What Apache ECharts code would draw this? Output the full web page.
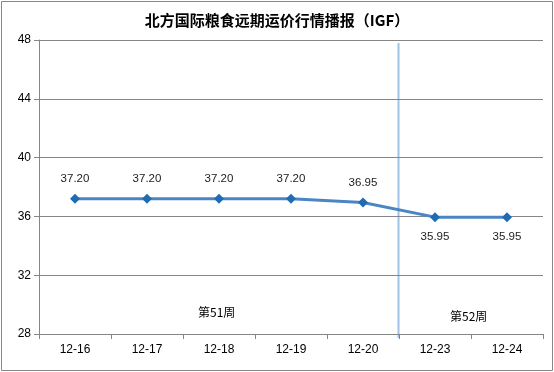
<!DOCTYPE html>
<html>
<head>
<meta charset="utf-8">
<script src="https://cdn.jsdelivr.net/npm/echarts@6/dist/echarts.min.js"></script>
<style>
  html, body { margin: 0; padding: 0; background: #fff; }
  #chart { width: 554px; height: 372px; }
</style>
</head>
<body>
<div id="chart"></div>
<script>
var dates = ['12-16', '12-17', '12-18', '12-19', '12-20', '12-23', '12-24'];
var prices = [37.20, 37.20, 37.20, 37.20, 36.95, 35.95, 35.95];
// 前5个标签在上方，后2个在下方
var labelPos = ['top', 'top', 'top', 'top', 'top', 'bottom', 'bottom'];
var weekLabels = ['第51周', '第52周'];

var chart = echarts.init(document.getElementById('chart'));

var option = {
  animation: false,
  title: {
    text: '北方国际粮食远期运价行情播报（IGF）',
    left: 'center',
    top: 8,
    textStyle: {
      fontFamily: 'Noto Sans CJK SC',
      fontSize: 15,
      fontWeight: 'bold',
      color: '#000'
    }
  },
  grid: { left: 39, right: 11, top: 40, bottom: 38 },
  xAxis: {
    type: 'category',
    data: dates,
    boundaryGap: true,
    axisLine: { lineStyle: { color: '#868686' } },
    axisTick: { show: true, length: 5, lineStyle: { color: '#868686' } },
    axisLabel: { color: '#000', fontSize: 12, fontFamily: 'Liberation Sans', margin: 10 }
  },
  yAxis: {
    type: 'value',
    min: 28,
    max: 48,
    interval: 4,
    axisLine: { show: true, lineStyle: { color: '#868686' } },
    axisTick: { show: true, length: 5, lineStyle: { color: '#868686' } },
    axisLabel: { color: '#000', fontSize: 12, fontFamily: 'Liberation Sans', margin: 8 },
    splitLine: { lineStyle: { color: '#868686' } }
  },
  series: [{
    type: 'line',
    data: prices.map(function (v, i) {
      return { value: v, label: { position: labelPos[i] } };
    }),
    symbol: 'diamond',
    symbolSize: 10,
    lineStyle: { color: '#4a86c5', width: 3 },
    itemStyle: { color: '#1f6cb4' },
    label: {
      show: true,
      color: '#222',
      fontSize: 11.5,
      fontFamily: 'Liberation Sans',
      distance: 9,
      formatter: function (p) { return p.value.toFixed(2); }
    }
  }],
  graphic: [
    {
      id: 'border',
      type: 'rect',
      shape: { x: 1.5, y: 1.5, width: 551, height: 369 },
      style: { fill: 'none', stroke: '#888', lineWidth: 1 },
      silent: true
    },
    {
      id: 'w51',
      type: 'text', left: 198, top: 306,
      style: { text: weekLabels[0], fill: '#000', font: '12px "Noto Sans CJK SC"' }
    },
    {
      id: 'w52',
      type: 'text', left: 450, top: 310,
      style: { text: weekLabels[1], fill: '#000', font: '12px "Noto Sans CJK SC"' }
    }
  ]
};

chart.setOption(option);

// 周分隔线：画在 12-20 与 12-23 之间
var p1 = chart.convertToPixel({ xAxisIndex: 0, yAxisIndex: 0 }, [4, 48]);
var p2 = chart.convertToPixel({ xAxisIndex: 0, yAxisIndex: 0 }, [5, 28]);
var sepX = Math.round((p1[0] + p2[0]) / 2) - 0.5;
chart.setOption({
  graphic: [{
    id: 'weekSep',
    type: 'line',
    silent: true,
    shape: { x1: sepX, y1: p1[1] + 3, x2: sepX, y2: p2[1] + 4 },
    style: { stroke: '#9dc3e6', lineWidth: 2 }
  }]
});
</script>
</body>
</html>
